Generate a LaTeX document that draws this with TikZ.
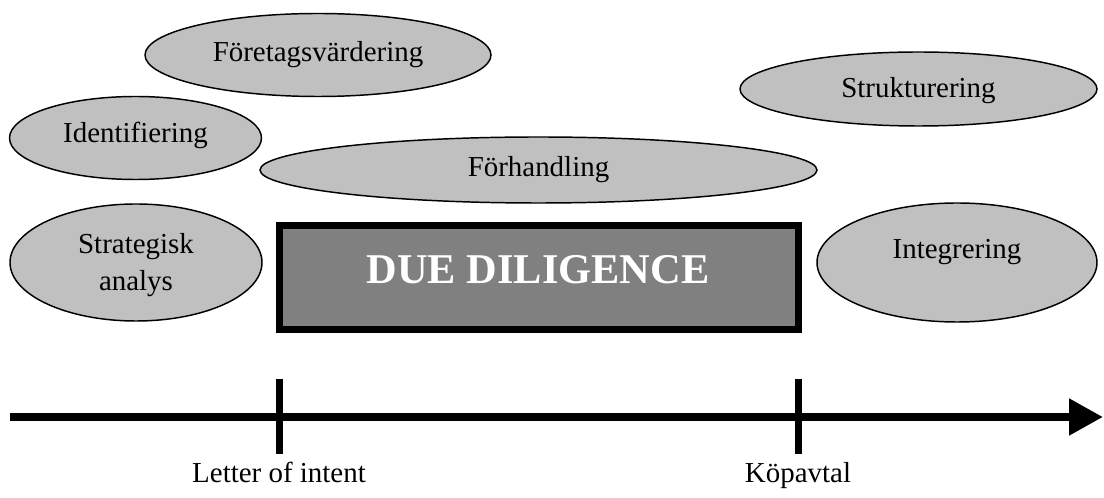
\documentclass[tikz,border=0pt]{standalone}
\usepackage{fontspec}
\setmainfont{Liberation Serif}
\usetikzlibrary{shapes.geometric,arrows.meta,calc}
\definecolor{ellgray}{HTML}{C0C0C0}
\definecolor{boxgray}{HTML}{808080}
\tikzset{
  ell/.style={ellipse, draw=black, line width=1.1pt, fill=ellgray, inner sep=0pt},
  txt/.style={font=\fontsize{21.7}{27.75}\selectfont, inner sep=0pt, text=black},
  ddbox/.style={draw=black, line width=5.25pt, fill=boxgray, inner sep=0pt},
  ddtxt/.style={font=\fontsize{31.8}{36}\selectfont\bfseries, text=white, inner sep=0pt},
  axis/.style={line width=6pt, -{Triangle[length=25.5pt,width=26.25pt]}},
  tick/.style={line width=5.25pt},
}
\begin{document}
\begin{tikzpicture}[x=0.75pt,y=-0.75pt]
\useasboundingbox (0,0) rectangle (1104,498);
% ellipses
\node[ell, minimum width=346*0.75pt, minimum height=83*0.75pt] (fv) at (318,55) {};
\node[ell, minimum width=252*0.75pt, minimum height=83*0.75pt] (id) at (135.5,138) {};
\node[ell, minimum width=557*0.75pt, minimum height=66*0.75pt] (fh) at (538.5,170) {};
\node[ell, minimum width=357*0.75pt, minimum height=74*0.75pt] (st) at (918.5,89) {};
\node[ell, minimum width=252*0.75pt, minimum height=117*0.75pt] (sa) at (136,262.5) {};
\node[ell, minimum width=280*0.75pt, minimum height=119*0.75pt] (in) at (957,262.5) {};
% ellipse texts
\node[txt, anchor=base] (fvt) at (318,62) {Företagsvärdering};
\node[txt, anchor=base] (idt) at (135.5,143) {Identifiering};
\node[txt, anchor=base] (fht) at (538.5,177) {Förhandling};
\node[txt, anchor=base] (stt) at (918.5,98) {Strukturering};
\node[txt, align=center] (sat) at (136,265) {Strategisk\\analys};
\node[txt, anchor=base] (int) at (957,259) {Integrering};
% due diligence box
\node[ddbox, minimum width=519*0.75pt, minimum height=104*0.75pt] (dd) at (539,277.5) {};
\node[ddtxt, anchor=base] (ddt) at (538,284) {DUE DILIGENCE};
% timeline
\coordinate (a0) at (10,417);
\coordinate (a1) at (1103,417);
\draw[axis] (a0) -- (a1);
\coordinate (l0) at (279,379);
\coordinate (l1) at (279,454);
\coordinate (k0) at (798,379);
\coordinate (k1) at (798,454);
\draw[tick] (l0) -- (l1);
\draw[tick] (k0) -- (k1);
\node[txt, anchor=base] (loi) at (279,483) {Letter of intent};
\node[txt, anchor=base] (kop) at (798,483) {Köpavtal};
\end{tikzpicture}
\end{document}
